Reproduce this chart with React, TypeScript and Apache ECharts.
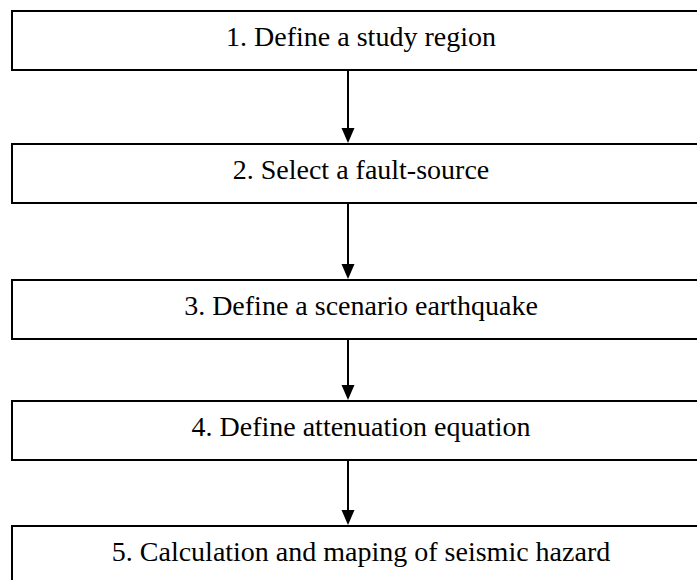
import React, { useEffect, useRef } from "react";
import * as echarts from "echarts";

// Flowchart steps
const steps: string[] = [
  "1. Define a study region",
  "2. Select a fault-source",
  "3. Define a scenario earthquake",
  "4. Define attenuation equation",
  "5. Calculation and maping of seismic hazard",
];

// layout (kept separate from data)
const boxTops: number[] = [11, 144, 280, 401, 526];
const boxBottoms: number[] = [70, 203, 339, 460, 640];
const BOX_LEFT = 12;
const BOX_WIDTH = 740;
const BOX_H = 59;
const TEXT_X = 361;
const FONT_SIZE = 28;
const ARROW_X = 348;

export default function App() {
  const ref = useRef<HTMLDivElement>(null);
  useEffect(() => {
    document.body.style.margin = "0";
    const chart = echarts.init(ref.current!, null, { renderer: "svg" });
    const elements: any[] = [];
    steps.forEach((label, i) => {
      const baseline = boxTops[i] + BOX_H / 2 + 6;
      elements.push({
        type: "rect",
        shape: { x: BOX_LEFT, y: boxTops[i], width: BOX_WIDTH, height: boxBottoms[i] - boxTops[i] },
        style: { fill: "#fff", stroke: "#000", lineWidth: 2 },
      });
      elements.push({
        type: "text",
        x: TEXT_X,
        y: baseline - FONT_SIZE * 0.34,
        style: {
          text: label,
          fontFamily: "'Liberation Serif', 'Times New Roman', serif",
          fontSize: FONT_SIZE,
          fill: "#000",
          align: "center",
          verticalAlign: "middle",
        },
      });
      if (i < steps.length - 1) {
        const y0 = boxBottoms[i];
        const y1 = boxTops[i + 1];
        elements.push({
          type: "line",
          shape: { x1: ARROW_X, y1: y0, x2: ARROW_X, y2: y1 - 12 },
          style: { stroke: "#000", lineWidth: 2 },
        });
        elements.push({
          type: "polygon",
          shape: { points: [[ARROW_X - 6.5, y1 - 16], [ARROW_X + 6.5, y1 - 16], [ARROW_X, y1 - 1]] },
          style: { fill: "#000" },
        });
      }
    });
    chart.setOption({
      animation: false,
      backgroundColor: "#fff",
      graphic: { elements },
    });
    return () => chart.dispose();
  }, []);
  return <div ref={ref} style={{ width: 697, height: 580 }} />;
}
